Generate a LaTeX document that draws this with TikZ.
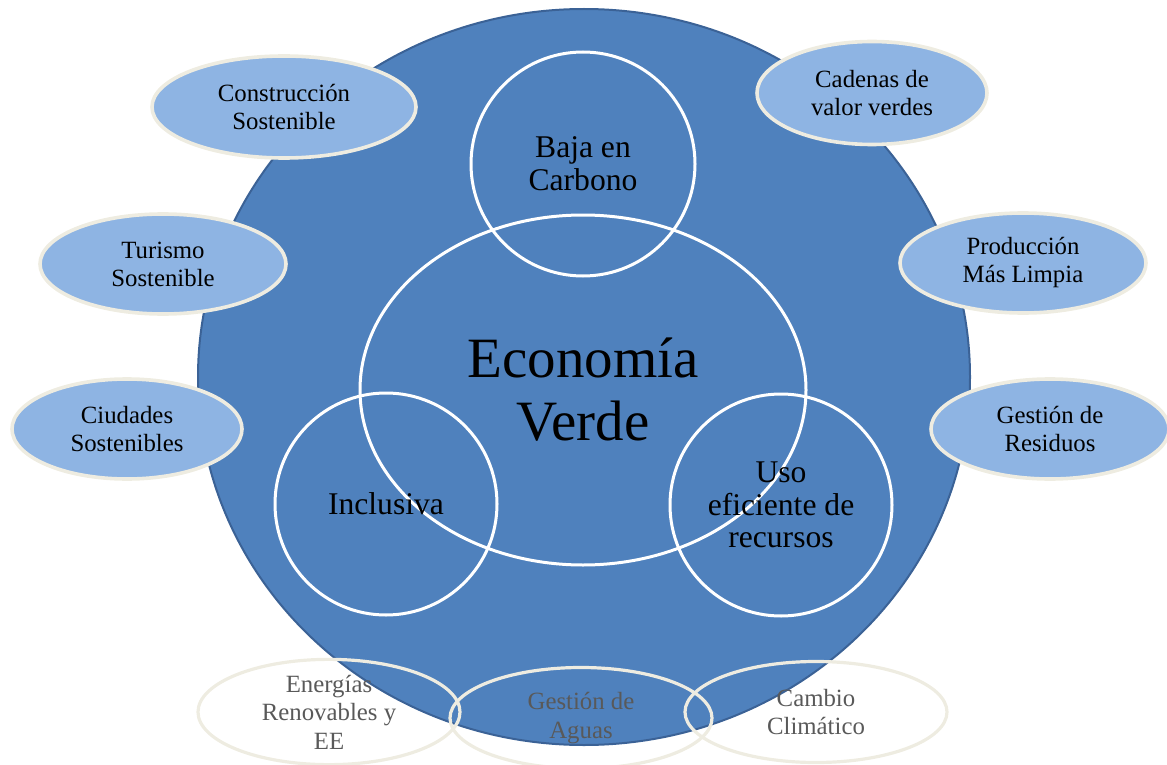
\documentclass[tikz,border=0pt]{standalone}
\usepackage{fontspec}
\setmainfont{Liberation Serif}
\usetikzlibrary{shapes.geometric}
\definecolor{verdeFondo}{HTML}{4F81BD}
\definecolor{verdeBorde}{HTML}{3B6296}
\definecolor{burbuja}{HTML}{8EB4E3}
\definecolor{crema}{HTML}{EEECE1}
\definecolor{grisTexto}{HTML}{595959}
\begin{document}
\begin{tikzpicture}[x=0.5pt, y=-0.5pt,
	pilar/.style={ellipse, draw=white, line width=1.5pt, inner sep=0pt,
		align=center, font=\fontsize{15.8}{16.4}\selectfont},
	sector/.style={ellipse, draw=crema, fill=burbuja, line width=1.8pt, inner sep=0pt,
		minimum width=118pt, minimum height=50pt, align=center,
		font=\fontsize{12.4}{14}\selectfont},
	tema/.style={ellipse, draw=crema, line width=1.6pt, inner sep=0pt,
		minimum width=131pt, minimum height=50.5pt, align=center, text=grisTexto,
		font=\fontsize{12.4}{14.3}\selectfont}]
	\useasboundingbox (0,0) rectangle (1167,765);
	
	% circulo de fondo
	\node[ellipse, draw=verdeBorde, fill=verdeFondo, line width=1pt,
		minimum width=386pt, minimum height=368pt] (fondo) at (584,377) {};
	
	% pilares
	\node[pilar, minimum width=223pt, minimum height=175pt,
		font=\fontsize{28.5}{31.5}\selectfont] (economia) at (583,390) {Econom\'ia\\Verde};
	\node[pilar, circle, minimum size=112pt] (baja) at (583,164) {Baja en\\Carbono};
	\node[pilar, circle, minimum size=111pt] (inclusiva) at (386,504) {Inclusiva};
	\node[pilar, circle, minimum size=111pt] (uso) at (781,505) {Uso\\eficiente de\\recursos};
	
	% sectores laterales
	\node[sector, minimum width=132pt, minimum height=51pt] (construccion) at (284,107) {Construcci\'on\\Sostenible};
	\node[sector, minimum width=115pt, minimum height=51.5pt] (cadenas) at (872,93) {Cadenas de\\valor verdes};
	\node[sector, minimum width=123pt] (turismo) at (163,264) {Turismo\\Sostenible};
	\node[sector, minimum width=123pt] (produccion) at (1023,263) {Producci\'on\\M\'as Limpia};
	\node[sector, minimum width=115pt] (ciudades) at (127,429) {Ciudades\\Sostenibles};
	\node[sector, minimum width=119pt] (residuos) at (1050,429) {Gesti\'on de\\Residuos};
	
	% temas inferiores
	\node[tema] (energias) at (329,712) {Energ\'ias\\Renovables y\\EE};
	\node[tema] (aguas) at (581,718) {Gesti\'on de\\Aguas};
	\node[tema] (cambio) at (816,712) {Cambio\\Clim\'atico};
\end{tikzpicture}
\end{document}
